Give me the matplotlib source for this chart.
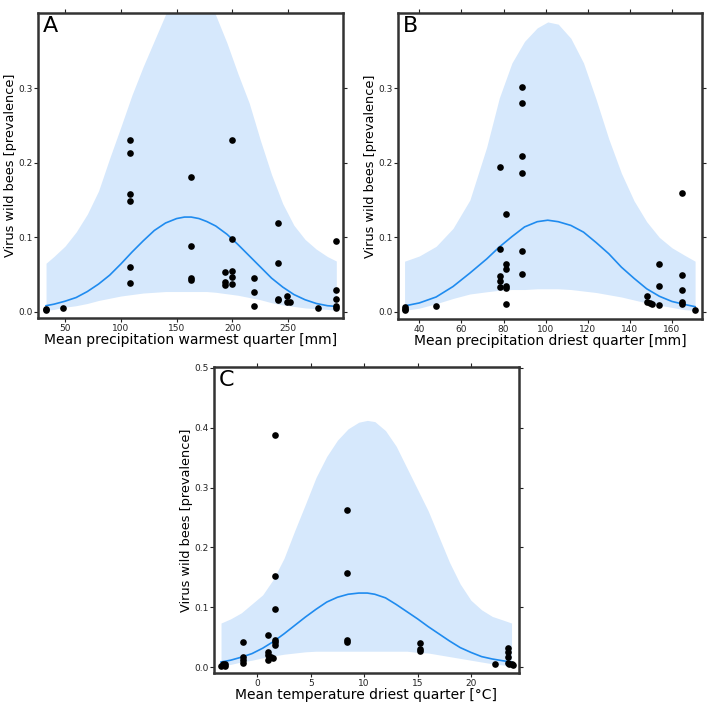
import matplotlib
matplotlib.use("Agg")
import matplotlib.pyplot as plt

# panel A - mean precipitation warmest quarter
a_px = [33, 33, 48, 108, 108, 108, 108, 108, 108, 163, 163, 163, 163,
        193, 193, 193, 199.5, 199.5, 199.5, 199.5, 199.5, 219, 219, 219,
        240.5, 240.5, 240.5, 240.5, 248.5, 248.5, 251.5, 276.5,
        293, 293, 293, 293, 293]
a_py = [0.002, 0.004, 0.0045, 0.231, 0.213, 0.158, 0.148, 0.060, 0.038,
        0.181, 0.088, 0.045, 0.043, 0.053, 0.0395, 0.036, 0.230, 0.097,
        0.055, 0.047, 0.0377, 0.045, 0.027, 0.008, 0.119, 0.065, 0.0175,
        0.016, 0.0215, 0.013, 0.0125, 0.005, 0.0945, 0.0287, 0.0175,
        0.0072, 0.005]
a_gx = [33, 40, 50, 60, 70, 80, 90, 100, 110, 120, 130, 140, 150, 157, 163,
        170, 177, 185, 195, 205, 215, 225, 235, 245, 255, 265, 275, 285, 293]
a_fit = [0.008, 0.010, 0.014, 0.019, 0.027, 0.037, 0.049, 0.064, 0.080,
         0.095, 0.109, 0.119, 0.125, 0.127, 0.127, 0.125, 0.121, 0.115,
         0.104, 0.090, 0.075, 0.060, 0.045, 0.033, 0.023, 0.016, 0.011,
         0.008, 0.007]
a_low = [0.002, 0.003, 0.006, 0.008, 0.011, 0.015, 0.018, 0.021, 0.023,
         0.025, 0.026, 0.027, 0.027, 0.027, 0.027, 0.027, 0.027, 0.026,
         0.024, 0.022, 0.019, 0.016, 0.012, 0.009, 0.007, 0.005, 0.004,
         0.003, 0.002]
a_up = [0.065, 0.074, 0.088, 0.107, 0.131, 0.162, 0.206, 0.248, 0.291,
        0.329, 0.364, 0.399, 0.43, 0.44, 0.445, 0.44, 0.425, 0.398, 0.361,
        0.319, 0.280, 0.230, 0.184, 0.145, 0.116, 0.097, 0.084, 0.074,
        0.068]

# panel B - mean precipitation driest quarter
b_px = [33, 33, 33, 48, 78.5, 78.5, 78.5, 78.5, 78.5, 81, 81, 81, 81, 81,
        81, 89, 89, 89, 89, 89, 89, 148, 148, 149.7, 150.5, 154, 154, 154,
        165, 165, 165, 165, 165, 171]
b_py = [0.006, 0.004, 0.002, 0.0076, 0.195, 0.084, 0.0475, 0.041, 0.034,
        0.131, 0.064, 0.057, 0.0345, 0.032, 0.010, 0.302, 0.280, 0.209,
        0.186, 0.082, 0.0515, 0.021, 0.0134, 0.012, 0.011, 0.0645, 0.0354,
        0.0099, 0.160, 0.049, 0.0296, 0.013, 0.0103, 0.003]
b_gx = [33, 40, 48, 56, 64, 72, 78, 84, 90, 96, 101, 106, 112, 118, 124,
        130, 136, 142, 148, 154, 160, 166, 171]
b_fit = [0.008, 0.012, 0.020, 0.034, 0.052, 0.071, 0.087, 0.101, 0.114,
         0.121, 0.123, 0.121, 0.116, 0.107, 0.093, 0.078, 0.060, 0.045,
         0.031, 0.021, 0.014, 0.010, 0.007]
b_low = [0.002, 0.005, 0.011, 0.018, 0.024, 0.027, 0.029, 0.030, 0.030,
         0.031, 0.031, 0.031, 0.030, 0.028, 0.026, 0.023, 0.020, 0.016,
         0.012, 0.009, 0.006, 0.003, 0.002]
b_up = [0.068, 0.075, 0.088, 0.112, 0.150, 0.221, 0.287, 0.334, 0.363,
        0.381, 0.389, 0.386, 0.367, 0.334, 0.285, 0.232, 0.186, 0.149,
        0.121, 0.100, 0.086, 0.076, 0.068]

# panel C - mean temperature driest quarter
c_px = [-3.4, -3.2, -3.0, -3.0, -1.35, -1.35, -1.35, -1.35, 0.99, 0.99,
        0.99, 0.99, 1.25, 1.45, 1.69, 1.69, 1.69, 1.69, 1.69, 1.69,
        8.35, 8.35, 8.35, 8.35, 15.22, 15.22, 15.22, 22.3, 23.44, 23.44,
        23.44, 23.44, 23.6, 23.8, 23.97]
c_py = [0.003, 0.005, 0.002, 0.006, 0.0428, 0.0167, 0.0122, 0.0067, 0.054,
        0.025, 0.0205, 0.0122, 0.017, 0.0155, 0.387, 0.152, 0.0966, 0.045,
        0.042, 0.038, 0.263, 0.158, 0.045, 0.043, 0.0411, 0.031, 0.028,
        0.0056, 0.0328, 0.026, 0.0178, 0.0067, 0.005, 0.0056, 0.0039]
c_gx = [-3.4, -2.5, -1.5, -0.5, 0.5, 1.5, 2.5, 3.5, 4.5, 5.5, 6.5, 7.5,
        8.5, 9.5, 10.3, 11, 12, 13, 14, 15, 16, 17, 18, 19, 20, 21, 22, 23,
        23.8]
c_fit = [0.009, 0.012, 0.017, 0.023, 0.032, 0.043, 0.056, 0.070, 0.084,
         0.097, 0.109, 0.117, 0.122, 0.124, 0.124, 0.122, 0.116, 0.105,
         0.093, 0.081, 0.068, 0.056, 0.044, 0.033, 0.025, 0.018, 0.014,
         0.011, 0.009]
c_low = [0.003, 0.005, 0.009, 0.012, 0.016, 0.019, 0.022, 0.024, 0.026,
         0.027, 0.027, 0.027, 0.027, 0.027, 0.027, 0.027, 0.027, 0.027,
         0.027, 0.025, 0.024, 0.021, 0.018, 0.015, 0.012, 0.009, 0.006,
         0.004, 0.003]
c_up = [0.074, 0.081, 0.091, 0.106, 0.121, 0.147, 0.182, 0.228, 0.272,
        0.317, 0.352, 0.379, 0.398, 0.409, 0.412, 0.410, 0.395, 0.369,
        0.333, 0.297, 0.261, 0.218, 0.175, 0.139, 0.112, 0.096, 0.085,
        0.079, 0.074]

ylab = "Virus wild bees [prevalence]"
band_col = "#d6e8fc"
line_col = "#1f8bef"
frame_col = "#333333"


def panel(ax, letter, px, py, gx, fit, low, up, xlabel, xlim, ylim,
          xticks, yticks):
    ax.fill_between(gx, low, up, color=band_col, lw=0, zorder=1)
    ax.plot(gx, fit, color=line_col, lw=1.2, zorder=2)
    ax.plot(px, py, "o", color="black", ms=4.8, mec="none", zorder=3)
    ax.set_xlim(xlim)
    ax.set_ylim(ylim)
    ax.set_xticks(xticks)
    ax.set_yticks(yticks)
    ax.set_yticklabels(["%.1f" % v for v in yticks])
    ax.tick_params(top=True, right=True, direction="out", length=3,
                   width=0.8, labelsize=6.5, pad=1, colors="#222222")
    for s in ax.spines.values():
        s.set_linewidth(1.8)
        s.set_color(frame_col)
    ax.set_xlabel(xlabel, fontsize=10, labelpad=0.5)
    ax.set_ylabel(ylab, fontsize=9.3, labelpad=0.5)
    ax.text(0.016, 0.99, letter, transform=ax.transAxes, ha="left",
            va="top", fontsize=16)


fig = plt.figure(figsize=(7.09, 7.06), dpi=100)
axA = fig.add_axes([0.0536, 0.5496, 0.4302, 0.4320])
axB = fig.add_axes([0.5614, 0.5482, 0.4288, 0.4334])
axC = fig.add_axes([0.3018, 0.0467, 0.4302, 0.4334])

panel(axA, "A", a_px, a_py, a_gx, a_fit, a_low, a_up,
      "Mean precipitation warmest quarter [mm]", (25.8, 299),
      (-0.0085, 0.401), [50, 100, 150, 200, 250], [0, 0.1, 0.2, 0.3])
panel(axB, "B", b_px, b_py, b_gx, b_fit, b_low, b_up,
      "Mean precipitation driest quarter [mm]", (29.9, 174.3),
      (-0.0095, 0.401), [40, 60, 80, 100, 120, 140, 160],
      [0, 0.1, 0.2, 0.3])
panel(axC, "C", c_px, c_py, c_gx, c_fit, c_low, c_up,
      "Mean temperature driest quarter [°C]", (-4.06, 24.5),
      (-0.0094, 0.501), [0, 5, 10, 15, 20],
      [0, 0.1, 0.2, 0.3, 0.4, 0.5])

fig.savefig("out.png", dpi=100)
